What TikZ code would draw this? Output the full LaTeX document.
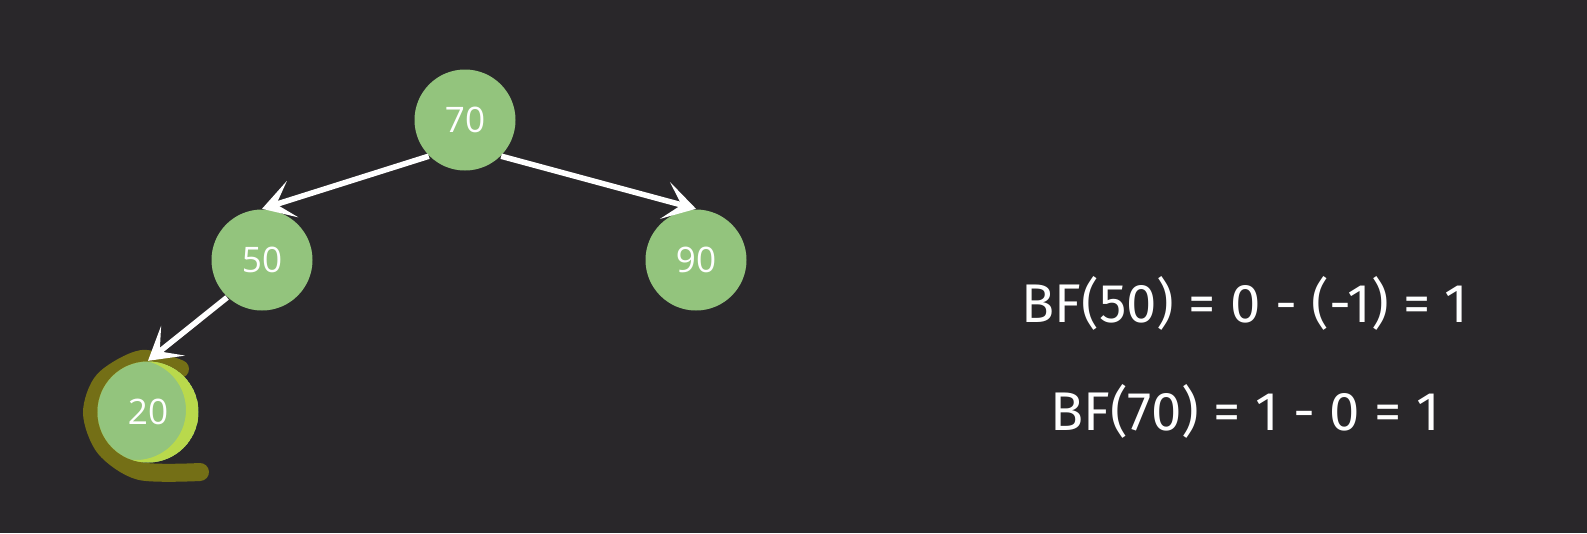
\documentclass[tikz,border=0pt]{standalone}
\usepackage{fontspec}
\setmainfont{Open Sans}
\newfontfamily\eqfont{Fira Sans}
\usepackage{tikz}
\usetikzlibrary{positioning}
\usetikzlibrary{arrows.meta}
\definecolor{bgdark}{HTML}{29272A}
\definecolor{leafgreen}{HTML}{93C47D}
\definecolor{markolive}{HTML}{746F16}
\definecolor{markyellow}{HTML}{B9D94C}
\tikzset{line/.style={draw, white, line width=1.6pt, -{Stealth[length=0.32cm, width=0.38cm, inset=0.17cm]}}}

\begin{document}
\begin{tikzpicture}
\tikzstyle{tnode} = [circle, fill=leafgreen, text=white, minimum size=1.01cm, inner sep=0pt, font=\fontsize{10}{12}\selectfont]
\tikzstyle{formula} = [text=white, font=\eqfont\fontsize{15.5}{18}\selectfont]

% background
    \fill[bgdark] (0,0) rectangle (15.87,5.33);
    \useasboundingbox (0,0) rectangle (15.87,5.33);
% marker
    \draw[markolive, line width=0.18cm, line cap=round] plot[smooth] coordinates {(1.80,1.64) (1.42,1.74) (1.04,1.53) (0.92,1.20) (1.05,0.85) (1.40,0.62) (2.00,0.61)};
% nodes
    \node [tnode] (n70) at (4.65,4.13) {70};
    \node [tnode] (n50) at (2.62,2.73) {50};
    \node [tnode] (n90) at (6.96,2.73) {90};
    \node [tnode] (n20) at (1.48,1.21) {20};
    \begin{scope}
        \clip (n20.center) circle (0.505cm);
        \fill[markyellow, even odd rule] (n20.center) circle (0.505cm) ([xshift=-0.12cm, yshift=0.02cm]n20.center) circle (0.5cm);
    \end{scope}
% formulas
    \node [formula] (bf50) at (12.45,2.30) {BF(50) = 0 - (-1) = 1};
    \node [formula, below=0.3cm of bf50] (bf70) {BF(70) = 1 - 0 = 1};
% arrows
    \path [line] (n70.225) -- (n50.north);
    \path [line] (n70.-45) -- (n90.north);
    \path [line] (n50.227) -- (n20.north);
\end{tikzpicture}
\end{document}
